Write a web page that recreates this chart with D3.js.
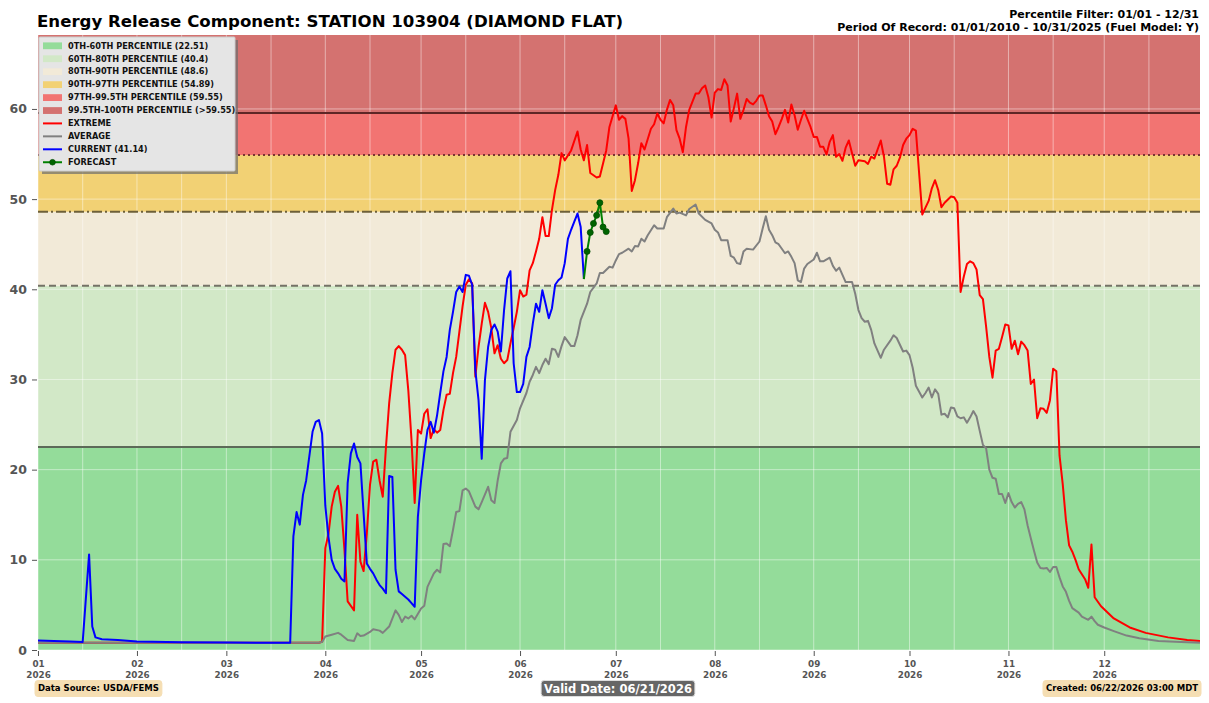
<!DOCTYPE html>
<html><head><meta charset="utf-8">
<script src="https://cdn.jsdelivr.net/npm/d3@7"></script>
<style>
body{margin:0;background:#fff;}
svg{display:block;font-family:"DejaVu Sans",sans-serif;}
</style>
</head><body>
<svg id="chart" width="1209" height="703"></svg>
<script>
// ---------------- DATA ----------------
const YEAR = 2026;
const titleText = "Energy Release Component: STATION 103904 (DIAMOND FLAT)";
const headerLines = ["Percentile Filter: 01/01 - 12/31", "Period Of Record: 01/01/2010 - 10/31/2025 (Fuel Model: Y)"];
const sourceText = "Data Source: USDA/FEMS";
const validText = "Valid Date: 06/21/2026";
const createdText = "Created: 06/22/2026 03:00 MDT";

const bandLabels = ["0TH-60TH PERCENTILE (22.51)", "60TH-80TH PERCENTILE (40.4)", "80TH-90TH PERCENTILE (48.6)",
  "90TH-97TH PERCENTILE (54.89)", "97TH-99.5TH PERCENTILE (59.55)", "99.5TH-100TH PERCENTILE (>59.55)"];
const bandLower = [0, 22.51, 40.4, 48.6, 54.89, 59.55];
const bandUpper = [22.51, 40.4, 48.6, 54.89, 59.55, 68.2];
const thresholdValues = [22.51, 40.4, 48.6, 54.89, 59.55];
const seriesLabels = ["EXTREME", "AVERAGE", "CURRENT (41.14)", "FORECAST"];

const monthTickLabels = ["01","02","03","04","05","06","07","08","09","10","11","12"];
const yTickValues = [0, 10, 20, 30, 40, 50, 60];
const yMax = 68.2;

// series: [day index (0 = Jan 1), ERC value]
const extreme = [[0,0.8],[88,0.8],[89,0.9],[90,11.3],[91,12.9],[92,15.9],[93,17.55],[94,18.2],[95,15.9],[96,11.1],[97,5.4],[98,4.9],[99,4.4],[100,15.0],[101,9.8],[102,8.75],[103,12.9],[104,18.3],[105,20.9],[106,21.1],[107,18.8],[108,17.0],[109,22.5],[110,27.35],[111,30.7],[112,33.3],[113,33.7],[114,33.3],[115,32.7],[116,28.8],[117,23.3],[118,16.3],[119,24.4],[120,24.0],[121,26.2],[122,26.7],[123,23.5],[124,24.5],[125,24.1],[126,24.4],[127,26.6],[128,28.3],[129,28.4],[130,30.7],[131,32.5],[132,35.3],[133,38.1],[134,40.5],[135,41.1],[136,40.65],[137,30.3],[138,33.6],[139,36.2],[140,38.5],[141,37.5],[142,35.7],[143,32.9],[144,33.8],[145,32.3],[146,31.8],[147,32.15],[148,34.0],[149,35.7],[150,37.5],[151,39.9],[152,39.2],[153,39.4],[154,42.1],[155,42.9],[156,44.2],[157,45.6],[158,48.0],[159,45.9],[160,45.9],[161,48.8],[162,51.0],[163,52.7],[164,55.1],[165,54.3],[167,55.4],[169,57.5],[170,55.5],[171,54.3],[172,56.0],[173,52.9],[175,52.4],[176,52.5],[178,55.4],[179,58.0],[181,60.4],[182,58.8],[183,59.2],[184,58.9],[185,56.7],[186,50.9],[187,52.1],[188,54.0],[189,56.2],[190,55.5],[192,57.8],[193,58.3],[194,59.5],[195,58.8],[196,58.4],[197,59.9],[198,61.0],[199,60.4],[200,57.65],[201,56.7],[202,55.2],[203,58.0],[204,59.9],[206,61.7],[207,61.7],[208,62.3],[209,62.6],[210,61.3],[211,59.05],[212,61.8],[213,62.2],[214,62.1],[215,63.3],[216,62.6],[217,58.6],[218,60.1],[219,61.7],[220,58.9],[221,59.9],[222,61.1],[223,60.7],[224,60.5],[225,60.9],[226,61.5],[227,61.5],[228,60.4],[229,59.2],[230,58.6],[231,57.2],[232,58.0],[233,58.9],[234,59.9],[235,58.5],[236,60.5],[237,59.3],[238,57.7],[239,58.8],[240,59.8],[241,58.9],[242,58.0],[243,56.9],[244,56.9],[245,55.8],[246,55.8],[247,54.95],[248,56.35],[249,57.1],[250,54.7],[251,55.0],[252,54.25],[253,55.7],[254,56.5],[255,55.1],[256,53.7],[257,54.3],[259,54.2],[260,53.9],[261,54.7],[262,54.5],[264,56.5],[265,54.7],[266,51.7],[267,51.6],[268,53.3],[269,53.7],[270,54.6],[271,56.0],[272,56.7],[273,57.1],[274,57.8],[275,57.6],[277,48.3],[278,49.05],[279,49.8],[280,51.2],[281,52.1],[282,51.0],[283,49.1],[284,49.6],[286,50.3],[287,50.2],[288,49.6],[289,39.7],[290,41.4],[291,42.8],[292,43.1],[293,42.9],[294,42.2],[295,39.35],[296,38.9],[297,35.85],[298,32.5],[299,30.2],[300,33.2],[301,33.4],[302,34.7],[303,36.1],[304,36.0],[305,33.4],[306,34.3],[307,32.8],[308,34.2],[309,33.8],[310,33.2],[311,29.5],[312,30.0],[313,25.7],[314,26.8],[315,26.75],[316,26.3],[317,27.7],[318,31.2],[319,30.9],[320,21.55],[321,18.4],[322,14.4],[323,11.6],[324,10.9],[325,10.0],[326,8.95],[328,7.85],[329,6.9],[330,11.7],[331,5.85],[333,4.85],[337,3.5],[342,2.5],[347,1.9],[354,1.4],[360,1.1],[364,1.0]];

const average = [[0,0.8],[88,0.8],[89,0.9],[90,1.5],[92,1.7],[94,1.9],[95,1.7],[97,1.1],[99,1.0],[100,1.85],[101,1.55],[102,1.6],[104,2.0],[105,2.3],[107,2.15],[108,1.9],[110,2.6],[112,4.4],[113,3.9],[114,3.1],[115,3.7],[116,3.5],[117,3.8],[118,3.4],[120,4.6],[121,4.9],[122,7.0],[124,8.5],[125,8.9],[126,8.6],[127,11.75],[128,11.8],[129,11.5],[130,13.3],[131,15.3],[132,15.4],[133,17.7],[134,17.9],[135,17.6],[137,15.9],[138,15.6],[139,16.4],[141,18.1],[142,16.6],[143,16.3],[144,18.8],[145,20.7],[146,21.2],[147,21.3],[148,24.2],[150,25.5],[151,26.8],[153,28.5],[154,29.75],[155,30.5],[156,31.4],[157,30.7],[158,31.6],[159,32.3],[160,31.7],[161,33.4],[162,33.3],[163,32.5],[164,33.7],[165,34.7],[167,33.7],[168,33.7],[169,34.9],[170,36.6],[172,38.4],[173,39.7],[175,40.65],[176,41.8],[177,41.8],[179,42.5],[180,42.4],[181,43.2],[182,43.9],[183,44.05],[185,44.5],[186,44.2],[187,44.8],[188,44.75],[189,45.6],[190,45.3],[191,46.0],[193,47.1],[194,46.75],[196,46.75],[197,48.0],[199,48.95],[200,48.4],[201,48.5],[203,48.2],[204,48.9],[206,49.4],[207,48.4],[209,47.7],[211,47.3],[212,46.6],[213,46.3],[214,45.45],[216,45.45],[217,43.7],[218,43.5],[219,42.9],[220,42.8],[221,44.2],[222,44.5],[224,44.4],[226,45.3],[227,46.75],[228,48.1],[229,46.6],[230,46.0],[231,45.2],[232,45.0],[234,44.0],[235,44.2],[236,43.6],[237,42.9],[238,41.0],[239,40.8],[240,42.3],[241,42.8],[243,43.3],[244,44.05],[245,43.1],[246,43.1],[248,43.5],[249,42.6],[250,42.05],[251,42.4],[252,41.6],[253,40.8],[255,40.8],[256,39.5],[257,37.7],[258,36.8],[259,36.4],[260,36.5],[261,35.5],[262,34.0],[264,32.4],[265,33.3],[267,34.3],[268,34.9],[269,34.6],[271,33.1],[272,33.2],[273,32.7],[274,31.3],[275,29.3],[277,28.0],[278,28.5],[279,29.1],[280,28.0],[281,28.9],[282,28.4],[283,26.1],[284,26.2],[285,25.8],[286,26.9],[287,26.8],[288,25.9],[289,25.7],[290,25.8],[291,25.2],[292,25.8],[293,26.5],[294,25.9],[295,24.3],[296,22.75],[297,22.35],[298,20.0],[299,19.1],[300,19.0],[301,17.3],[302,17.3],[303,16.3],[304,17.4],[305,16.4],[306,15.8],[307,16.2],[308,16.4],[309,15.6],[310,13.8],[311,12.4],[312,11.0],[313,9.7],[314,9.1],[315,9.05],[316,9.1],[317,8.65],[318,9.2],[319,9.2],[320,8.05],[321,7.05],[322,6.45],[323,5.45],[324,4.65],[326,4.15],[327,3.7],[329,3.35],[330,3.7],[331,3.2],[332,2.8],[334,2.5],[337,2.1],[341,1.6],[345,1.3],[351,1.0],[358,0.9],[364,0.8]];

const current = [[0,1.05],[5,1.0],[10,0.95],[14,0.9],[16,10.6],[17,2.6],[18,1.4],[20,1.2],[25,1.1],[31,0.95],[45,0.85],[60,0.82],[79,0.8],[80,12.6],[81,15.3],[82,13.9],[83,17.2],[84,18.8],[86,24.2],[87,25.3],[88,25.5],[89,24.0],[90,16.0],[91,12.5],[92,10.0],[93,9.0],[94,8.5],[95,7.9],[96,7.6],[97,18.5],[98,21.8],[99,22.9],[100,21.4],[101,20.7],[103,9.6],[104,9.0],[105,8.5],[106,7.8],[107,7.2],[108,6.8],[109,6.3],[110,19.3],[111,19.2],[112,8.9],[113,6.5],[114,6.2],[115,5.9],[116,5.6],[117,5.2],[118,4.8],[119,14.8],[120,18.8],[121,21.8],[122,24.4],[123,25.3],[124,24.1],[125,26.0],[126,28.5],[127,30.9],[128,32.5],[129,35.5],[130,37.5],[131,39.7],[132,40.3],[133,39.7],[134,41.6],[135,41.5],[136,40.5],[137,31.0],[138,27.7],[139,21.2],[140,29.9],[141,33.6],[142,35.5],[143,36.1],[144,35.3],[145,33.1],[146,37.7],[147,41.2],[148,42.0],[149,31.8],[150,28.6],[151,28.6],[152,29.5],[153,32.5],[154,33.6],[155,36.2],[156,38.4],[157,37.5],[158,39.9],[159,38.4],[160,36.8],[161,37.9],[162,40.5],[163,41.0],[164,41.3],[165,42.9],[166,45.6],[167,46.6],[168,47.5],[169,48.4],[170,46.9],[171,41.14]];

const forecast = [[171,41.14],[172,44.2],[173,46.3],[174,47.3],[175,48.2],[176,49.6],[177,46.9],[178,46.4]];

// ---------------- STYLE ----------------
const bandColors = ["#94dc9a", "#d2e8c7", "#f2ead8", "#f2d174", "#f27472", "#d47270"];
const thresholdColors = ["#5c6a58", "#747266", "#6e6038", "#7a3530", "#5e2626"];
const thresholdDash = [null, "7,4", "10,3,2,3", "2,3", null];
const seriesColors = ["#ff0000", "#808080", "#0000ff", "#008000"];

const M = {left: 38, right: 1200, top: 35, bottom: 650};

const svg = d3.select("#chart");
const dayDate = d => new Date(Date.UTC(YEAR, 0, 1 + d));

const x = d3.scaleUtc().domain([dayDate(0), dayDate(364)]).range([M.left, M.right]);
const y = d3.scaleLinear().domain([0, yMax]).range([M.bottom, M.top]);

svg.append("defs").append("clipPath").attr("id", "clip")
  .append("rect").attr("x", M.left).attr("y", M.top)
  .attr("width", M.right - M.left).attr("height", M.bottom - M.top);

const plot = svg.append("g").attr("clip-path", "url(#clip)");

// bands
plot.selectAll("rect.band").data(bandLower).join("rect")
  .attr("class", "band")
  .attr("x", M.left).attr("width", M.right - M.left)
  .attr("y", (d, i) => y(bandUpper[i]))
  .attr("height", (d, i) => y(d) - y(bandUpper[i]))
  .attr("fill", (d, i) => bandColors[i]);

// grid
const monthStarts = d3.range(12).map(m => new Date(Date.UTC(YEAR, m, 1)));
const midMonths = d3.range(12).map(m => new Date(Date.UTC(YEAR, m, 15)));
plot.selectAll("line.vgrid").data(monthStarts.concat(midMonths)).join("line")
  .attr("x1", d => x(d)).attr("x2", d => x(d))
  .attr("y1", M.top).attr("y2", M.bottom)
  .attr("stroke", "#ffffff").attr("stroke-opacity", 0.45).attr("stroke-width", 1);
plot.selectAll("line.hgrid").data(yTickValues).join("line")
  .attr("x1", M.left).attr("x2", M.right)
  .attr("y1", d => y(d)).attr("y2", d => y(d))
  .attr("stroke", "#ffffff").attr("stroke-opacity", 0.45).attr("stroke-width", 1);

// thresholds
plot.selectAll("line.thr").data(thresholdValues).join("line")
  .attr("x1", M.left).attr("x2", M.right)
  .attr("y1", d => y(d)).attr("y2", d => y(d))
  .attr("stroke", (d, i) => thresholdColors[i])
  .attr("stroke-width", 2)
  .attr("stroke-dasharray", (d, i) => thresholdDash[i]);

// series lines
const line = d3.line().x(d => x(dayDate(d[0]))).y(d => y(d[1]));
[extreme, average, current, forecast].forEach((s, i) => {
  plot.append("path").datum(s)
    .attr("d", line).attr("fill", "none")
    .attr("stroke", seriesColors[i]).attr("stroke-width", 2)
    .attr("stroke-linejoin", "round");
});
plot.selectAll("circle.fc").data(forecast.slice(1)).join("circle")
  .attr("cx", d => x(dayDate(d[0]))).attr("cy", d => y(d[1]))
  .attr("r", 3).attr("fill", "#006400").attr("stroke", "#004d00").attr("stroke-width", 0.8);

// axes
const xAxis = d3.axisBottom(x).tickValues(monthStarts).tickSize(5).tickPadding(5)
  .tickFormat((d, i) => monthTickLabels[i]);
const gx = svg.append("g").attr("transform", `translate(0,${M.bottom + 1})`).call(xAxis);
gx.select(".domain").remove();
gx.selectAll(".tick line").attr("stroke", "#555").attr("stroke-width", 1);
gx.selectAll(".tick text").each(function(d, i) {
  const t = d3.select(this);
  t.text(null).attr("fill", "#555").attr("font-size", 8.8).attr("font-weight", "bold")
   .attr("font-family", "DejaVu Sans");
  t.append("tspan").attr("x", 0).attr("dy", "0.71em").text(monthTickLabels[i]);
  t.append("tspan").attr("x", 0).attr("dy", "1.2em").text(String(YEAR));
});

const yAxis = d3.axisLeft(y).tickValues(yTickValues).tickSize(5).tickPadding(5);
const gy = svg.append("g").attr("transform", `translate(${M.left - 1},0)`).call(yAxis);
gy.select(".domain").remove();
gy.selectAll(".tick line").attr("stroke", "#555");
gy.selectAll(".tick text").attr("fill", "#555").attr("font-size", 12.5).attr("font-weight", "bold")
  .attr("font-family", "DejaVu Sans");

// title + header
svg.append("text").attr("x", 37).attr("y", 27).text(titleText)
  .attr("font-size", 16.6).attr("font-weight", "bold").attr("fill", "#000");
headerLines.forEach((t, i) => {
  svg.append("text").attr("x", 1199).attr("y", 18 + i * 12.5).attr("text-anchor", "end")
    .attr("font-size", 11).attr("font-weight", "bold").attr("fill", "#000").text(t);
});

// legend
const lg = svg.append("g").attr("transform", "translate(39,37)");
lg.append("rect").attr("x", 3).attr("y", 3).attr("width", 196).attr("height", 134)
  .attr("fill", "#6e6e6e").attr("opacity", 0.7);
lg.append("rect").attr("x", 0).attr("y", 0).attr("width", 196).attr("height", 134)
  .attr("fill", "#e5e5e5").attr("stroke", "#cccccc").attr("stroke-width", 1).attr("rx", 1);
const rowY = i => 8.7 + i * 12.95;
bandLabels.forEach((lab, i) => {
  lg.append("rect").attr("x", 4).attr("y", rowY(i) - 3.3).attr("width", 19).attr("height", 6.8)
    .attr("fill", bandColors[i]);
  lg.append("text").attr("x", 29).attr("y", rowY(i)).attr("dy", "0.35em")
    .attr("font-size", 8.2).attr("font-weight", "bold").attr("fill", "#111").text(lab);
});
seriesLabels.forEach((lab, j) => {
  const i = j + 6;
  lg.append("line").attr("x1", 4).attr("x2", 23).attr("y1", rowY(i)).attr("y2", rowY(i))
    .attr("stroke", seriesColors[j]).attr("stroke-width", 2);
  if (j === 3) lg.append("circle").attr("cx", 13.5).attr("cy", rowY(i)).attr("r", 2.8)
    .attr("fill", "#006400").attr("stroke", "#004d00").attr("stroke-width", 0.8);
  lg.append("text").attr("x", 29).attr("y", rowY(i)).attr("dy", "0.35em")
    .attr("font-size", 8.2).attr("font-weight", "bold").attr("fill", "#111").text(lab);
});

// footer boxes
function labelBox(txt, cx, anchor, bg, fg, fs, border) {
  const g = svg.append("g");
  const t = g.append("text").attr("y", 688.5).attr("dy", "0.35em").attr("font-size", fs)
    .attr("font-weight", "bold").attr("fill", fg).text(txt);
  const w = t.node().getComputedTextLength();
  let x0 = anchor === "start" ? cx : anchor === "end" ? cx - w : cx - w / 2;
  t.attr("x", x0);
  g.insert("rect", "text").attr("x", x0 - 3).attr("y", 680.5).attr("width", w + 6).attr("height", 16)
    .attr("rx", 3).attr("fill", bg).attr("stroke", border);
}
labelBox(sourceText, 38, "start", "#f5deb3", "#000", 8.5, "#f5deb3");
labelBox(validText, 618, "middle", "#666666", "#fff", 11.5, "#dddddd");
labelBox(createdText, 1198, "end", "#f5deb3", "#000", 8.5, "#f5deb3");
</script>
</body></html>
